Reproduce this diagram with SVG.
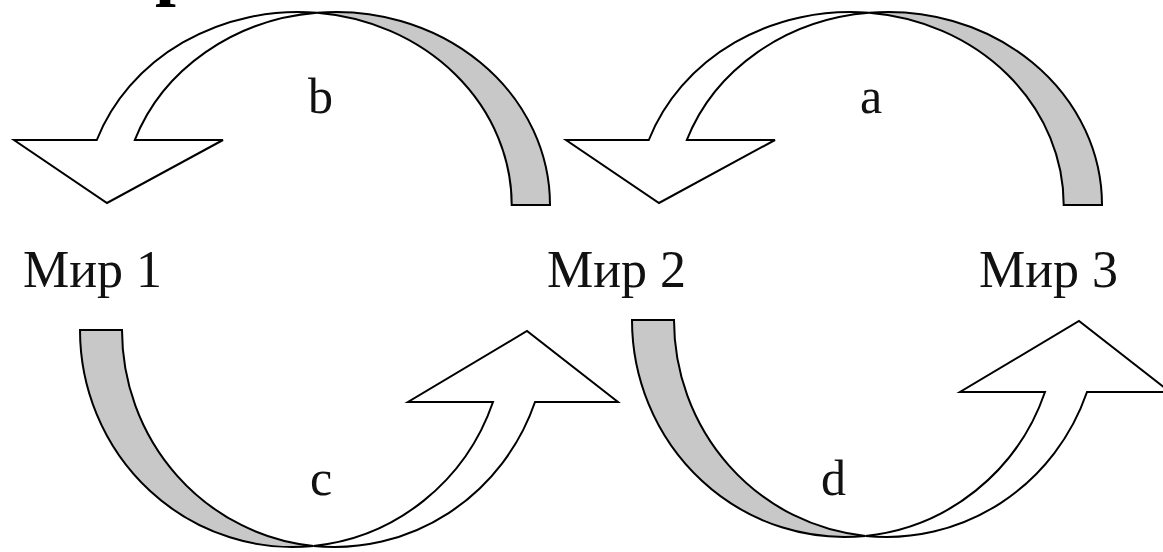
<svg xmlns="http://www.w3.org/2000/svg" width="1163" height="552" viewBox="0 0 1163 552">
<style>
.w{fill:#ffffff;stroke:#000;stroke-width:2;stroke-linejoin:miter}
.g{fill:#c8c8c8;stroke:#000;stroke-width:2;stroke-linejoin:miter}
.lbl{font-family:"Liberation Serif","Times New Roman",serif;font-size:52px;fill:#111}
.let{font-family:"Liberation Serif","Times New Roman",serif;font-size:50px;fill:#111}
.head{font-family:"Liberation Serif","Times New Roman",serif;font-size:75px;font-weight:bold;fill:#000}
</style>
<defs>
<g id="arrowTop">
<path class="w" d="M317,12.8 A213.7 193 0 0 0 96.8,140 L14,140 L107,203 L223,140 L134.8,140 A213.7 193 0 0 1 317,12.8 Z"/>
<path class="g" d="M317,12.8 A213.7 193 0 0 1 550,205 L511.7,205 A213.7 193 0 0 0 317,12.8 Z"/>
</g>
<g id="arrowBottom">
<path class="g" d="M80,330 A212.5 217 0 0 0 313.5,545.9 A212.5 217 0 0 1 122,330 Z"/>
<path class="w" d="M313.5,545.9 A212.5 217 0 0 0 535,402 L618,402 L527,331 L408,402 L493,402 A212.5 217 0 0 1 313.5,545.9 Z"/>
</g>
</defs>
<text class="head" x="155" y="-9">р</text>
<g id="connectors">
<g id="arrow-b"><use href="#arrowTop"/></g>
<g id="arrow-a"><use href="#arrowTop" transform="translate(552,0)"/></g>
<g id="arrow-c"><use href="#arrowBottom"/></g>
<g id="arrow-d"><use href="#arrowBottom" transform="translate(552,-10)"/></g>
<text class="let" x="308" y="113">b</text>
<text class="let" x="860" y="113">a</text>
<text class="let" x="310" y="495">c</text>
<text class="let" x="821" y="495">d</text>
</g>
<g id="node-mir1"><text class="lbl" x="23" y="287">Мир 1</text></g>
<g id="node-mir2"><text class="lbl" x="547" y="287">Мир 2</text></g>
<g id="node-mir3"><text class="lbl" x="979" y="287">Мир 3</text></g>
</svg>
